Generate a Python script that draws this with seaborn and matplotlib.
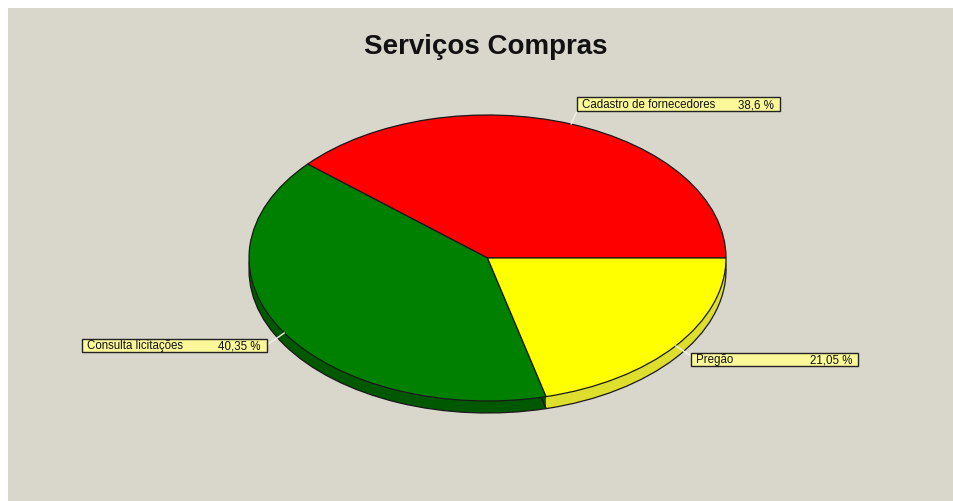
import numpy as np
import matplotlib
matplotlib.use("Agg")
import matplotlib.pyplot as plt
from matplotlib.patches import Rectangle
import seaborn as sns

# Service shares (percent)
categories = ["Cadastro de fornecedores", "Consulta licitações", "Pregão"]
shares = [38.6, 40.35, 21.05]
share_labels = ["38,6 %", "40,35 %", "21,05 %"]
title = "Serviços Compras"

top_colors = ["#ff0000", "#008000", "#ffff00"]
side_colors = ["#b00000", "#005800", "#dede2c"]

sns.set_theme(style="white")
plt.rcParams["font.family"] = ["Liberation Sans", "DejaVu Sans"]

W, H = 954, 501
fig = plt.figure(figsize=(W / 100, H / 100), dpi=100, facecolor="white")


def fx(x):
    return x / W


def fy(y):
    return 1 - y / H


# panel background (extends past the right and bottom edges)
fig.patches.append(Rectangle((fx(8), -0.02), 1.05 - fx(8), fy(8) + 0.02,
                             transform=fig.transFigure, facecolor="#d9d6cc",
                             edgecolor="none", zorder=-5))

ax = fig.add_axes([0, 0, 1, 1])
ax.set_zorder(1)
ax.set_facecolor("none")

# pie ellipse: centre (487.5, 258) px, radii 238.5 x 143 px
cx, cy, rx, ry = 487.5, 258.0, 238.5, 143.0
depth = 12.0 / ry

# side wall: stacked copies of the pie shifted downward
for off in np.linspace(depth, 0, 25):
    ax.pie(shares, colors=side_colors, startangle=0, counterclock=True,
           center=(0, -off), wedgeprops=dict(linewidth=0, edgecolor="none"),
           frame=False)
ax.pie(shares, colors=["none"] * 3, startangle=0, counterclock=True,
       center=(0, -depth), wedgeprops=dict(linewidth=0.9, edgecolor="#1a1a1a",
                                           facecolor="none"), frame=False)
# top face
ax.pie(shares, colors=top_colors, startangle=0, counterclock=True,
       center=(0, 0), wedgeprops=dict(linewidth=0.9, edgecolor="#1a1a1a"),
       frame=False)

ax.set_aspect("auto")
ax.set_xlim((0 - cx) / rx, (W - cx) / rx)
ax.set_ylim((cy - H) / ry, (cy - 0) / ry)
ax.axis("off")

fig.text(fx(486), fy(47), title, ha="center", va="center",
         fontsize=20, fontweight="bold", color="#111111")

# label boxes: (left, top, right, bottom) in px
boxes = [(577, 97, 780, 111), (82, 339, 267, 352), (691, 353, 858, 366)]
# leader attachment point on each box
anchors = [(577, 111), (267, 345), (691, 356)]

cum = np.cumsum([0] + shares)
for i, name in enumerate(categories):
    mid = np.deg2rad((cum[i] + cum[i + 1]) / 2 / 100 * 360)
    ex = cx + rx * np.cos(mid)
    ey = cy - ry * np.sin(mid)
    ax_, ay_ = anchors[i]
    fig.add_artist(plt.Line2D([fx(ex), fx(ax_)], [fy(ey), fy(ay_)],
                              transform=fig.transFigure, color="#f2f2ea",
                              linewidth=1.0, zorder=4))
    l, t, r, b = boxes[i]
    fig.add_artist(Rectangle((fx(l), fy(b)), fx(r) - fx(l), fy(t) - fy(b),
                             transform=fig.transFigure, facecolor="#fbf89a",
                             edgecolor="#222222", linewidth=1.0, zorder=5))
    ymid = fy((t + b) / 2 - 0.5)
    fig.text(fx(l + 5), ymid, name, ha="left", va="center_baseline",
             fontsize=8.3, color="#111111", zorder=6)
    fig.text(fx(r - 6), ymid, share_labels[i], ha="right", va="center_baseline",
             fontsize=8.3, color="#111111", zorder=6)

fig.savefig("out.png", dpi=100, facecolor="white")
